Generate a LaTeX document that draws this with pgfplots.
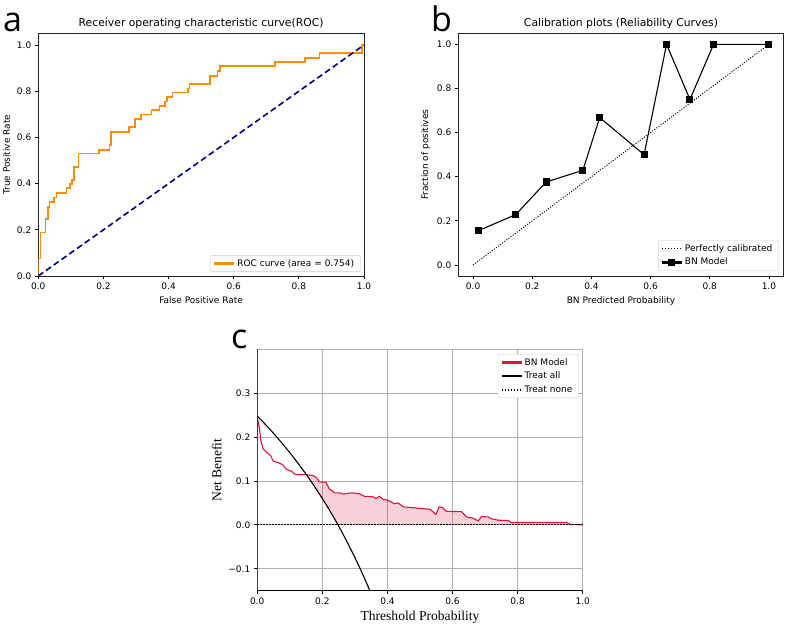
\documentclass[border=0pt]{standalone}
\usepackage{pgfplots}
\pgfplotsset{compat=1.18}
\usepackage{fontspec}
\setmainfont{DejaVu Sans}
\newfontfamily\seriffont{Liberation Serif}
\newfontfamily\letterfont{Open Sans}
\definecolor{roc}{RGB}{255,140,0}
\definecolor{navyc}{RGB}{0,0,128}
\definecolor{crim}{RGB}{220,20,60}
\definecolor{gridc}{RGB}{176,176,176}
\pgfplotsset{
  mpl/.style={
    scale only axis,
    anchor=south west,
    tick pos=left,
    tick align=outside,
    major tick length=3.5pt,
    tick style={black, line width=0.8pt},
    axis line style={black!85, line width=0.8pt},
    tick label style={font=\fontsize{9}{11}\selectfont},
    label style={font=\fontsize{9}{11}\selectfont},
    title style={font=\fontsize{10.8}{13}\selectfont, yshift=-4.5pt},
    legend cell align=left,
    legend style={draw=black!20, rounded corners=2pt, fill=white,
      font=\fontsize{9}{11}\selectfont, inner xsep=3.5pt, inner ysep=3.5pt, row sep=4.5pt,
      nodes={inner xsep=3pt, inner ysep=0.5pt}},
  }
}
\begin{document}
\begin{tikzpicture}
\path[use as bounding box] (0,0) rectangle (790pt,628pt);
% panel letters
\node[anchor=base west, inner sep=0pt, font=\letterfont\fontsize{34}{40}\selectfont] at (3pt,596.3pt) {a};
\node[anchor=base west, inner sep=0pt, font=\letterfont\fontsize{34}{40}\selectfont] at (431pt,596.3pt) {b};
\node[anchor=base west, inner sep=0pt, font=\letterfont\fontsize{34}{40}\selectfont] at (231pt,279.7pt) {c};

% ---------------- Panel a: ROC ----------------
\begin{axis}[mpl,
  at={(38.3pt,352pt)}, width=325.7pt, height=242.5pt,
  xmin=0, xmax=1, ymin=0, ymax=1.05,
  xtick={0,0.2,0.4,0.6,0.8,1.0}, xticklabels={0.0,0.2,0.4,0.6,0.8,1.0},
  ytick={0,0.2,0.4,0.6,0.8,1.0}, yticklabels={0.0,0.2,0.4,0.6,0.8,1.0},
  title={Receiver operating characteristic curve(ROC)},
  xlabel={False Positive Rate}, ylabel={True Positive Rate},
  legend style={at={(0.99,0.017)}, anchor=south east},
]
\addplot[roc, line width=1.6pt, line join=miter,
  legend image code/.code={\fill[roc, sharp corners] (0pt,-1pt) rectangle (19pt,1pt);}] coordinates {
(0,0) (0,0.076) (0.007,0.076) (0.007,0.189) (0.0225,0.189) (0.0225,0.247) (0.029,0.247) (0.029,0.30)
(0.034,0.30) (0.034,0.32) (0.049,0.32) (0.049,0.34) (0.056,0.34) (0.056,0.36) (0.087,0.36) (0.087,0.38)
(0.097,0.38) (0.097,0.398) (0.104,0.398) (0.104,0.416) (0.11,0.416) (0.11,0.473) (0.123,0.473) (0.123,0.531)
(0.187,0.531) (0.187,0.545) (0.218,0.545) (0.218,0.567) (0.223,0.567) (0.223,0.623) (0.278,0.623) (0.278,0.644)
(0.297,0.644) (0.297,0.68) (0.315,0.68) (0.315,0.70) (0.348,0.70) (0.348,0.719) (0.372,0.719) (0.372,0.737)
(0.389,0.737) (0.389,0.755) (0.396,0.755) (0.396,0.775) (0.412,0.775) (0.412,0.795) (0.459,0.795) (0.459,0.812)
(0.464,0.812) (0.464,0.831) (0.527,0.831) (0.527,0.867) (0.55,0.867) (0.55,0.887) (0.558,0.887) (0.558,0.908)
(0.727,0.908) (0.727,0.926) (0.819,0.926) (0.819,0.945) (0.863,0.945) (0.863,0.965) (0.993,0.965) (0.993,1.0) (1,1)
};
\addlegendentry{ROC curve (area = 0.754)}
\addplot[navyc, line width=1.6pt, dash pattern=on 6pt off 3.5pt, forget plot] coordinates {(0,0) (1,1)};
\end{axis}

% ---------------- Panel b: Calibration ----------------
\begin{axis}[mpl,
  at={(458.3pt,352pt)}, width=325.4pt, height=242.7pt,
  xmin=-0.05, xmax=1.05, ymin=-0.05, ymax=1.05,
  xtick={0,0.2,0.4,0.6,0.8,1.0}, xticklabels={0.0,0.2,0.4,0.6,0.8,1.0},
  ytick={0,0.2,0.4,0.6,0.8,1.0}, yticklabels={0.0,0.2,0.4,0.6,0.8,1.0},
  title={Calibration plots (Reliability Curves)},
  xlabel={BN Predicted Probability}, ylabel={Fraction of positives},
  legend style={at={(0.9855,0.022)}, anchor=south east},
]
\addplot[black, line width=1pt, dash pattern=on 1pt off 1.6pt,
  legend image code/.code={\draw[black, sharp corners, line width=1.1pt, dash pattern=on 1.1pt off 1.8pt] (0pt,0pt) -- (19pt,0pt);}] coordinates {(0,0) (1,1)};
\addlegendentry{Perfectly calibrated}
\addplot[black, line width=1.1pt, mark=square*, mark size=3pt,
  legend image code/.code={\fill[black, sharp corners] (0pt,-0.7pt) rectangle (19pt,0.7pt);
    \fill[black, sharp corners] (6.5pt,-3pt) rectangle (12.5pt,3pt);}] coordinates {
(0.017,0.155) (0.144,0.228) (0.247,0.376) (0.371,0.429) (0.428,0.668)
(0.578,0.500) (0.654,1.0) (0.733,0.75) (0.813,1.0) (1.0,1.0)
};
\addlegendentry{BN Model}
\end{axis}

% ---------------- Panel c: DCA ----------------
\begin{axis}[mpl,
  at={(257.3pt,37.3pt)}, width=325.4pt, height=241.4pt,
  xmin=0, xmax=1, ymin=-0.15, ymax=0.4,
  xtick={0,0.2,0.4,0.6,0.8,1.0}, xticklabels={0.0,0.2,0.4,0.6,0.8,1.0},
  ytick={-0.1,0,0.1,0.2,0.3}, yticklabels={−0.1,0.0,0.1,0.2,0.3},
  axis line style={gridc, line width=0.8pt},
  grid=major, grid style={gridc, line width=0.8pt},
  xlabel={Threshold Probability}, ylabel={Net Benefit},
  label style={font=\seriffont\fontsize{13.6}{16}\selectfont},
  legend style={at={(0.9886,0.9805)}, anchor=north east},
]
\addplot[fill=crim, fill opacity=0.2, draw=none, forget plot] coordinates {
(0.152,0.113) (0.157,0.114) (0.172,0.112) (0.182,0.107) (0.191,0.098) (0.211,0.097) (0.221,0.082)
(0.238,0.073) (0.253,0.073) (0.263,0.070) (0.289,0.073) (0.314,0.071) (0.329,0.065) (0.355,0.064)
(0.365,0.060) (0.375,0.065) (0.385,0.059) (0.401,0.056) (0.422,0.048) (0.432,0.050) (0.4385,0.0469)
(0.449,0.041) (0.531,0.0355) (0.549,0.024) (0.559,0.041) (0.570,0.039) (0.580,0.031) (0.628,0.030)
(0.643,0.018) (0.664,0.015) (0.679,0.009) (0.689,0.019) (0.71,0.018) (0.72,0.0136) (0.741,0.0106)
(0.772,0.0098) (0.780,0.0053) (0.951,0.0053) (0.962,0.0008) (1.0,0)
(0.248,0) (0.225,0.0297) (0.2,0.060) (0.175,0.0885) (0.152,0.113)
};
\addplot[crim, line width=1.1pt,
  legend image code/.code={\fill[crim, sharp corners] (0pt,-0.7pt) rectangle (19pt,0.7pt);}] coordinates {
(0,0.245) (0.006,0.222) (0.011,0.192) (0.018,0.173) (0.034,0.162) (0.041,0.158) (0.049,0.145)
(0.064,0.142) (0.080,0.136) (0.088,0.127) (0.105,0.122) (0.116,0.115) (0.157,0.114) (0.172,0.112)
(0.182,0.107) (0.191,0.098) (0.211,0.097) (0.221,0.082) (0.238,0.073) (0.253,0.073) (0.263,0.070)
(0.289,0.073) (0.314,0.071) (0.329,0.065) (0.355,0.064) (0.365,0.060) (0.375,0.065) (0.385,0.059)
(0.401,0.056) (0.422,0.048) (0.432,0.050) (0.4385,0.0469) (0.449,0.041) (0.531,0.0355) (0.549,0.024)
(0.559,0.041) (0.570,0.039) (0.580,0.031) (0.628,0.030) (0.643,0.018) (0.664,0.015) (0.679,0.009)
(0.689,0.019) (0.71,0.018) (0.72,0.0136) (0.741,0.0106) (0.772,0.0098) (0.780,0.0053) (0.951,0.0053)
(0.962,0.0008) (1.0,0)
};
\addlegendentry{BN Model}
\addplot[black, line width=1.1pt,
  legend image code/.code={\fill[black, sharp corners] (0pt,-0.7pt) rectangle (19pt,0.7pt);}] coordinates {
(0,0.248) (0.025,0.2287) (0.05,0.2084) (0.075,0.1870) (0.1,0.1644) (0.125,0.1406) (0.15,0.1153)
(0.175,0.0885) (0.2,0.060) (0.225,0.0297) (0.25,-0.0027) (0.275,-0.0372) (0.3,-0.0743)
(0.325,-0.1141) (0.35,-0.1569)
};
\addlegendentry{Treat all}
\addplot[black, line width=1.2pt, dash pattern=on 1.2pt off 1.8pt,
  legend image code/.code={\draw[black, sharp corners, line width=1.2pt, dash pattern=on 1.2pt off 1.8pt] (0pt,0pt) -- (19pt,0pt);}] coordinates {(0,0) (1,0)};
\addlegendentry{Treat none}
\draw[black, line width=0.8pt] (rel axis cs:0,1) -- (rel axis cs:0,0) -- (rel axis cs:1,0);
\end{axis}
\end{tikzpicture}
\end{document}
